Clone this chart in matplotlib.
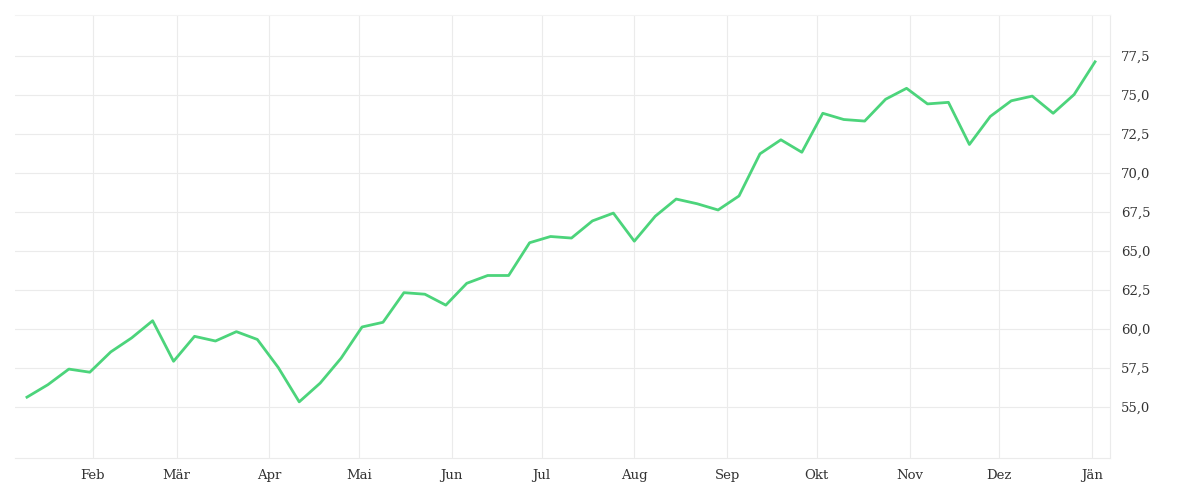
import matplotlib
matplotlib.use("Agg")
import matplotlib.pyplot as plt
import matplotlib.dates as mdates
import numpy as np
import datetime as dt

start = dt.date(2023, 1, 10)
values = [55.6, 56.4, 57.4, 57.2, 58.5, 59.4, 60.5, 57.9, 59.5, 59.2, 59.8, 59.3, 57.5,
          55.3, 56.5, 58.1, 60.1, 60.4, 62.3, 62.2, 61.5, 62.9, 63.4, 63.4, 65.5, 65.9,
          65.8, 66.9, 67.4, 65.6, 67.2, 68.3, 68.0, 67.6, 68.5, 71.2, 72.1, 71.3, 73.8,
          73.4, 73.3, 74.7, 75.4, 74.4, 74.5, 71.8, 73.6, 74.6, 74.9, 73.8, 75.0, 77.1]
dates = [start + dt.timedelta(weeks=i) for i in range(len(values))]
month_labels = ["Feb", "Mär", "Apr", "Mai", "Jun", "Jul", "Aug", "Sep", "Okt", "Nov", "Dez", "Jän"]
month_ticks = [dt.date(2023, m, 1) for m in range(2, 13)] + [dt.date(2024, 1, 1)]
yticks = [55.0, 57.5, 60.0, 62.5, 65.0, 67.5, 70.0, 72.5, 75.0, 77.5]

fig = plt.figure(figsize=(12, 5), dpi=100)
ax = fig.add_axes([15/1200, 42/500, 1095/1200, 443/500])
ax.plot(dates, values, color="#4cd47b", lw=2)
ax.set_xlim(dt.date(2023, 1, 6), dt.date(2024, 1, 7))
ax.set_ylim(51.7, 80.1)
ax.set_xticks(month_ticks)
ax.set_xticklabels(month_labels)
ax.set_yticks(yticks)
ax.set_yticklabels([f"{v:.1f}".replace(".", ",") for v in yticks])
ax.yaxis.tick_right()
ax.grid(True, color="#ebebeb", lw=0.8)
for s in ax.spines.values():
    s.set_visible(False)
ax.spines["right"].set_visible(True)
ax.spines["right"].set_color("#ebebeb")
ax.spines["bottom"].set_visible(True)
ax.spines["bottom"].set_color("#ebebeb")
ax.spines["top"].set_visible(True)
ax.spines["top"].set_color("#f3f3f3")
ax.tick_params(length=0, labelsize=9.5, colors="#333333", pad=8)
for lab in ax.get_xticklabels() + ax.get_yticklabels():
    lab.set_family("DejaVu Serif")
fig.savefig("out.png")
